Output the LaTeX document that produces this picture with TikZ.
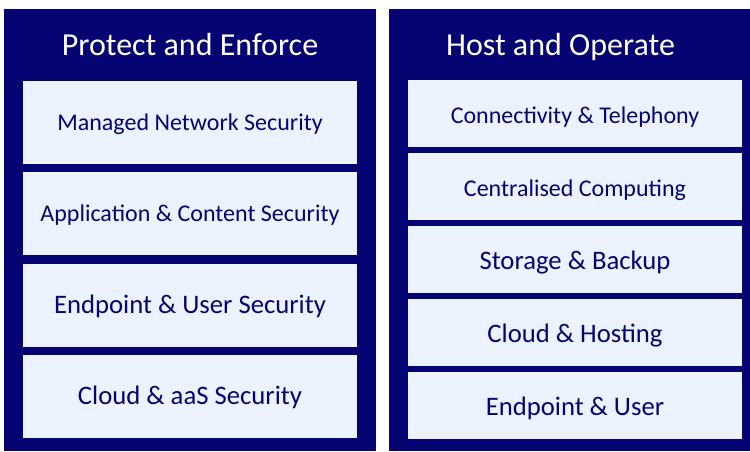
\documentclass[tikz,border=0pt]{standalone}
\usepackage{fontspec}
\setmainfont{Carlito}
\usepackage{xcolor}
\definecolor{navy}{RGB}{6,4,115}
\definecolor{pale}{RGB}{237,243,254}

\begin{document}
\begin{tikzpicture}
[x=1pt,y=-1pt,
panel/.style={rectangle,fill=navy,inner sep=0pt,minimum height=442pt},
title/.style={anchor=base,text=white,inner sep=0pt,font=\fontsize{32}{38}\selectfont},
item/.style={rectangle,fill=pale,text=navy,inner sep=0pt,minimum width=334pt,text depth=0pt},
tall/.style={item,minimum height=83pt,text height=15.5pt},
short/.style={item,minimum height=67pt,text height=20pt},
small/.style={font=\fontsize{24}{29}\selectfont},
large/.style={font=\fontsize{26.7}{32}\selectfont},]

\useasboundingbox (0,0) rectangle (750,451);

%Panels
\node (L) at (190,230)[panel,minimum width=372pt] {};
\node (R) at (569.5,230)[panel,minimum width=361pt] {};

%Titles
\node (LT) at (190,55)[title] {Protect and Enforce};
\node (RT) at (560.5,55)[title] {Host and Operate};

%Left column
\node (L1) at (190,122.5)[tall,small] {Managed Network Security};
\node (L2) at (190,213.5)[tall,small] {Application \& Content Security};
\node (L3) at (190,305.5)[tall,large] {Endpoint \& User Security};
\node (L4) at (190,396.5)[tall,large] {Cloud \& aaS Security};

%Right column
\node (R1) at (575,113.5)[short,small] {Connectivity \& Telephony};
\node (R2) at (575,186.5)[short,small] {Centralised Computing};
\node (R3) at (575,259.5)[short,large] {Storage \& Backup};
\node (R4) at (575,332.5)[short,large] {Cloud \& Hosting};
\node (R5) at (575,405.5)[short,large] {Endpoint \& User};
\end{tikzpicture}
\end{document}
